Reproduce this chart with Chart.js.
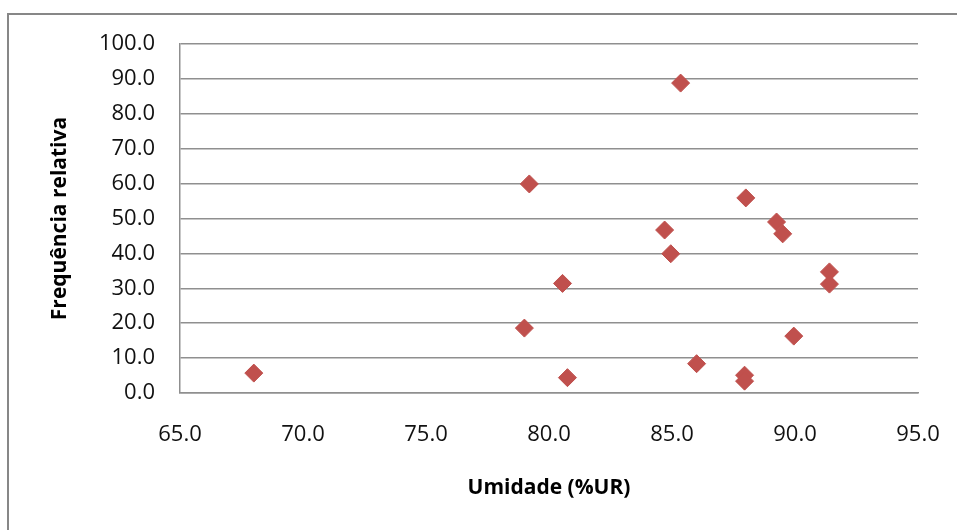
<!DOCTYPE html>
<html>
<head>
<meta charset="utf-8">
<script src="https://cdn.jsdelivr.net/npm/chart.js@4"></script>
<style>
  html, body { margin: 0; padding: 0; background: #fff; }
  #wrap { width: 957px; height: 530px; position: relative; }
</style>
</head>
<body>
<div id="wrap"><canvas id="c" width="957" height="530"></canvas></div>
<script>
// Data
const umidade = [68.0, 79.2, 85.35, 88.0, 89.25, 89.5, 84.7, 84.95, 91.4, 91.4, 80.55, 79.0, 89.95, 80.75, 86.0, 87.95, 87.95];
const frequencia = [5.7, 59.9, 88.8, 55.9, 49.0, 45.6, 46.7, 39.9, 34.7, 31.2, 31.4, 18.6, 16.3, 4.4, 8.4, 5.1, 3.4];
const xTitle = 'Umidade (%UR)';
const yTitle = 'Frequência relativa';

const points = umidade.map((x, i) => ({ x: x, y: frequencia[i] }));

const framePlugin = {
  id: 'frame',
  beforeDraw(chart) {
    const ctx = chart.ctx;
    ctx.save();
    ctx.fillStyle = '#ffffff';
    ctx.fillRect(0, 0, chart.width, chart.height);
    ctx.strokeStyle = '#878787';
    ctx.lineWidth = 2;
    ctx.beginPath();
    ctx.moveTo(8, chart.height + 5);
    ctx.lineTo(8, 14);
    ctx.lineTo(chart.width + 5, 14);
    ctx.stroke();
    ctx.restore();
  }
};

const tickFont = { family: '"Open Sans"', size: 22 };
const titleFont = { family: '"Open Sans"', size: 21, weight: 'bold' };
const gridColor = '#8f8f8f';

new Chart(document.getElementById('c'), {
  type: 'scatter',
  data: {
    datasets: [{
      data: points,
      pointStyle: 'rectRot',
      pointRadius: 9,
      pointHoverRadius: 9,
      backgroundColor: '#C0504D',
      borderColor: '#C0504D',
      borderWidth: 1
    }]
  },
  options: {
    responsive: false,
    animation: false,
    layout: { padding: { top: 44, right: 39, bottom: 0, left: 0 } },
    plugins: {
      legend: { display: false },
      tooltip: { enabled: false }
    },
    scales: {
      x: {
        type: 'linear',
        min: 65, max: 95,
        ticks: {
          stepSize: 5,
          padding: 29,
          color: '#111',
          font: tickFont,
          maxRotation: 0,
          callback: v => Number(v).toFixed(1)
        },
        grid: { display: false, drawTicks: false },
        border: { display: true, color: gridColor, width: 1.5 },
        title: {
          display: true,
          text: xTitle,
          color: '#000',
          font: titleFont,
          padding: { top: 0, bottom: 29 }
        },
        afterFit: s => { s.height = 137; s.paddingLeft = 0; s.paddingRight = 0; }
      },
      y: {
        type: 'linear',
        min: 0, max: 100,
        ticks: {
          stepSize: 10,
          padding: 25,
          color: '#111',
          font: tickFont,
          callback: v => Number(v).toFixed(1)
        },
        grid: { display: true, color: gridColor, lineWidth: 1.5, drawTicks: false },
        border: { display: true, color: gridColor, width: 1.5 },
        title: {
          display: true,
          text: yTitle,
          color: '#000',
          font: titleFont,
          padding: { top: 47, bottom: 0 }
        },
        afterFit: s => { s.width = 180; }
      }
    }
  },
  plugins: [framePlugin]
});
</script>
</body>
</html>
